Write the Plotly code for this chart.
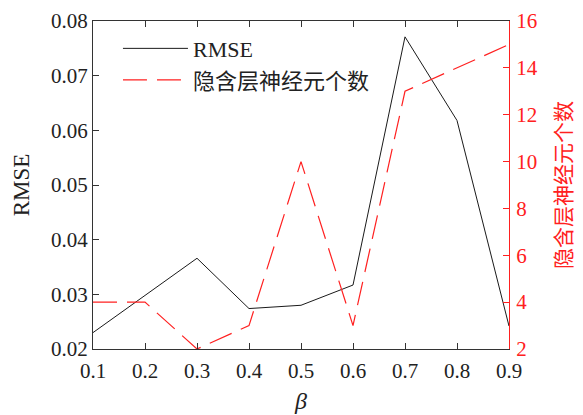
import plotly.graph_objects as go

# Data
beta = [0.1, 0.2, 0.3, 0.4, 0.5, 0.6, 0.7, 0.8, 0.9]
rmse = [0.0230, 0.0298, 0.0366, 0.0274, 0.0280, 0.0317, 0.0771, 0.0618, 0.0242]
neurons = [4, 4, 2, 3, 10, 3, 13, 14, 15]

serif = "Liberation Serif, Times New Roman, Noto Sans CJK SC, serif"
cjk = "Liberation Serif, Noto Sans CJK SC, serif"
red = "#ff2020"

fig = go.Figure()
fig.add_trace(go.Scatter(
    x=beta, y=rmse, mode="lines", name="RMSE",
    line=dict(color="#1a1a1a", width=1),
))
fig.add_trace(go.Scatter(
    x=beta, y=neurons, mode="lines", name="隐含层神经元个数", yaxis="y2",
    line=dict(color=red, width=1.2, dash="24px,10px"),
))

fig.update_layout(
    width=583, height=415,
    margin=dict(l=93, r=74, t=21, b=66),
    paper_bgcolor="white", plot_bgcolor="white",
    font=dict(family=serif, size=21, color="#222"),
    showlegend=True,
    legend=dict(
        x=0.06, y=0.98, xanchor="left", yanchor="top",
        bgcolor="rgba(0,0,0,0)", borderwidth=0,
        font=dict(family=cjk, size=22),
        itemwidth=65,
    ),
    xaxis=dict(
        range=[0.1, 0.9], tickvals=beta,
        ticktext=[f"{v:.1f}" for v in beta],
        showgrid=False, zeroline=False, automargin=False,
        showline=True, linecolor="#333", linewidth=1,
        mirror="ticks", ticks="inside", ticklen=6, tickcolor="#333",
        tickfont=dict(size=21, color="#222"), ticklabelstandoff=3,
        title=dict(text="<i>β</i>", font=dict(size=24, color="#222"), standoff=9),
    ),
    yaxis=dict(
        range=[0.02, 0.08], tickvals=[0.02, 0.03, 0.04, 0.05, 0.06, 0.07, 0.08],
        ticktext=["0.02", "0.03", "0.04", "0.05", "0.06", "0.07", "0.08"],
        showgrid=False, zeroline=False, automargin=False,
        showline=True, linecolor="#333", linewidth=1,
        ticks="inside", ticklen=6, tickcolor="#333",
        tickfont=dict(size=21, color="#222"),
        title=dict(text="RMSE", font=dict(size=23, color="#222"), standoff=14),
    ),
    yaxis2=dict(
        overlaying="y", side="right",
        range=[2, 16], tickvals=[2, 4, 6, 8, 10, 12, 14, 16],
        showgrid=False, zeroline=False, automargin=False,
        showline=True, linecolor=red, linewidth=1.2,
        ticks="inside", ticklen=6, tickcolor=red,
        tickfont=dict(size=21, color=red), ticklabelstandoff=2,
        title=dict(text="隐含层神经元个数", font=dict(family=cjk, size=21, color=red), standoff=19),
    ),
)

fig.write_html("out.html")
